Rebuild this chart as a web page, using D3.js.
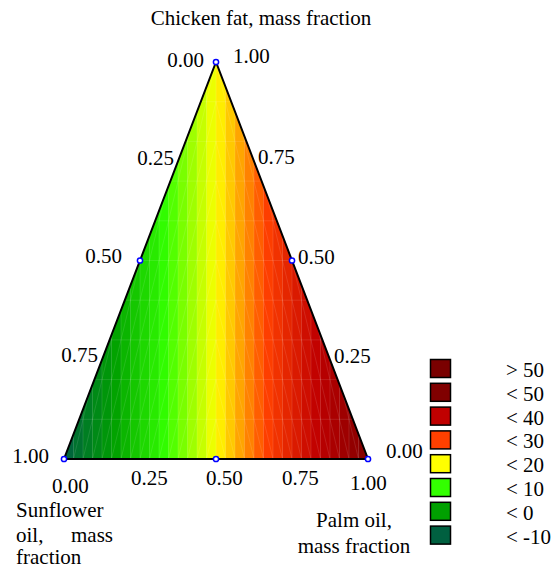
<!DOCTYPE html>
<html>
<head>
<meta charset="utf-8">
<script src="https://cdn.jsdelivr.net/npm/d3@7"></script>
<style>
  body { margin: 0; background: #fff; }
</style>
</head>
<body>
<script>
// response read along the base edge (chicken fat = 0); field is constant vertically
const palmFraction = [0, 0.25, 0.5, 0.75, 1];
const responseAlongBase = [-10, 5, 20, 35, 50];

// colour levels of the contour scale
const levelValues = [-10, 0, 10, 20, 30, 40, 50];
const levelColors = ["#006040", "#00a000", "#33ff00", "#ffff00", "#ff4000", "#c00000", "#800000"];

// legend
const legendLabels = ["> 50", "< 50", "< 40", "< 30", "< 20", "< 10", "< 0", "< -10"];
const legendColors = ["#7a0000", "#800000", "#c00000", "#ff4000", "#ffff00", "#33ff00", "#00a000", "#006040"];

// axis ticks
const tickValues = [0, 0.25, 0.5, 0.75, 1];
const tickLabels = ["0.00", "0.25", "0.50", "0.75", "1.00"];

const width = 552, height = 569;

const svg = d3.select("body")
  .append("svg")
    .attr("width", width)
    .attr("height", height)
    .attr("font-family", "'Liberation Serif', 'DejaVu Serif', serif")
    .attr("font-size", 21);

// base position (0..1 along bottom edge) and chicken fat height
const x = d3.scaleLinear().domain([0, 1]).range([64, 368]);
const y = d3.scaleLinear().domain([0, 1]).range([459, 62]);
// ternary point: palm p, chicken fat c
const pt = (p, c) => [x(p + c / 2), y(c)];

const response = d3.scaleLinear().domain(palmFraction).range(responseAlongBase);
const color = d3.scaleLinear().domain(levelValues).range(levelColors).clamp(true);

const corners = [pt(0, 0), pt(1, 0), pt(0, 1)];

svg.append("clipPath")
    .attr("id", "tri")
  .append("polygon")
    .attr("points", corners.map(d => d.join(",")).join(" "));

// colour field, drawn as vertical bands
const nCols = 32, nRows = 10;
const field = svg.append("g").attr("clip-path", "url(#tri)");

field.selectAll("rect")
  .data(d3.range(nCols))
  .join("rect")
    .attr("x", i => x(i / nCols))
    .attr("y", y(1))
    .attr("width", i => x((i + 1) / nCols) - x(i / nCols) + 0.4)
    .attr("height", y(0) - y(1))
    .attr("fill", i => color(response((i + 0.5) / nCols)));

// faint mesh seams
const mesh = field.append("g")
    .attr("stroke", "#fff")
    .attr("stroke-opacity", 0.16)
    .attr("stroke-width", 0.7);

mesh.selectAll(".v")
  .data(d3.range(1, nCols))
  .join("line")
    .attr("x1", i => x(i / nCols)).attr("x2", i => x(i / nCols))
    .attr("y1", y(1)).attr("y2", y(0));

mesh.selectAll(".h")
  .data(d3.range(1, nRows))
  .join("line")
    .attr("x1", x(0)).attr("x2", x(1))
    .attr("y1", j => y(j / nRows)).attr("y2", j => y(j / nRows));

const cells = [];
d3.range(nCols).forEach(i => d3.range(nRows).forEach(j => cells.push([i, j])));
mesh.selectAll(".d")
  .data(cells)
  .join("line")
    .attr("x1", d => x(d[0] / nCols))
    .attr("x2", d => x((d[0] + 1) / nCols))
    .attr("y1", d => d[0] < nCols / 2 ? y(d[1] / nRows) : y((d[1] + 1) / nRows))
    .attr("y2", d => d[0] < nCols / 2 ? y((d[1] + 1) / nRows) : y(d[1] / nRows));

// triangle outline
svg.append("polygon")
    .attr("points", corners.map(d => d.join(",")).join(" "))
    .attr("fill", "none")
    .attr("stroke", "#000")
    .attr("stroke-width", 2)
    .attr("stroke-linejoin", "miter");

// blue markers at corners and mid-edges
const markers = [pt(0, 0), pt(1, 0), pt(0, 1), pt(0.5, 0), pt(0, 0.5), pt(0.5, 0.5)];
svg.selectAll(".marker")
  .data(markers)
  .join("circle")
    .attr("cx", d => d[0])
    .attr("cy", d => d[1])
    .attr("r", 2.6)
    .attr("fill", "#fff")
    .attr("stroke", "#0000ff")
    .attr("stroke-width", 1.5);

// left edge: sunflower oil fraction (0 at top, 1 at bottom-left)
const leftDx = [-12, -4, -18, -4, -15];
const leftDy = [5, 4, 2, 2, 4];
svg.selectAll(".lt")
  .data(tickValues)
  .join("text")
    .attr("x", (s, i) => pt(0, 1 - s)[0] + leftDx[i])
    .attr("y", (s, i) => pt(0, 1 - s)[1] + leftDy[i])
    .attr("text-anchor", "end")
    .text((s, i) => tickLabels[i]);

// right edge: chicken fat fraction (0 at bottom-right, 1 at top)
const rightDx = [18, 4, 6, 4, 17];
const rightDy = [-1, 3, 3, 3, 1];
svg.selectAll(".rt")
  .data(tickValues)
  .join("text")
    .attr("x", (c, i) => pt(1 - c, c)[0] + rightDx[i])
    .attr("y", (c, i) => pt(1 - c, c)[1] + rightDy[i])
    .attr("text-anchor", "start")
    .text((c, i) => tickLabels[i]);

// bottom edge: palm oil fraction
const bottomDx = [-12, -9, -10, -10, -18];
const bottomDy = [34, 26, 26, 26, 31];
svg.selectAll(".bt")
  .data(tickValues)
  .join("text")
    .attr("x", (p, i) => pt(p, 0)[0] + bottomDx[i])
    .attr("y", (p, i) => pt(p, 0)[1] + bottomDy[i])
    .attr("text-anchor", "start")
    .text((p, i) => tickLabels[i]);

// axis titles
svg.append("text")
    .attr("x", 261).attr("y", 25)
    .attr("text-anchor", "middle")
    .text("Chicken fat, mass fraction");

svg.append("text").attr("x", 16).attr("y", 517).text("Sunflower");
svg.append("text").attr("x", 16).attr("y", 542).text("oil,");
svg.append("text").attr("x", 113).attr("y", 542).attr("text-anchor", "end").text("mass");
svg.append("text").attr("x", 16).attr("y", 564).text("fraction");

svg.append("text").attr("x", 354).attr("y", 527).attr("text-anchor", "middle").text("Palm oil,");
svg.append("text").attr("x", 354).attr("y", 553).attr("text-anchor", "middle").text("mass fraction");

// legend
const legend = svg.selectAll(".legend")
  .data(legendLabels)
  .join("g")
    .attr("class", "legend")
    .attr("transform", (d, i) => `translate(0, ${i * 23.8})`);

legend.append("rect")
    .attr("x", 430.5)
    .attr("y", 359.5)
    .attr("width", 20)
    .attr("height", 18)
    .attr("fill", (d, i) => legendColors[i])
    .attr("stroke", "#000")
    .attr("stroke-width", 1.5);

legend.append("text")
    .attr("x", 506)
    .attr("y", 377)
    .text(d => d);
</script>
</body>
</html>
